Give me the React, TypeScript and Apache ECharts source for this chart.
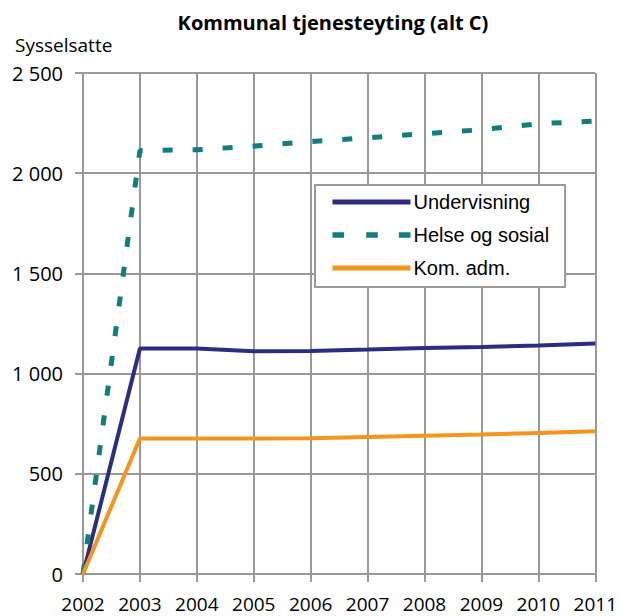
import React, { useEffect, useRef } from "react";
import * as echarts from "echarts";

const years = ["2002", "2003", "2004", "2005", "2006", "2007", "2008", "2009", "2010", "2011"];
const undervisning = [0, 1125, 1125, 1112, 1113, 1120, 1128, 1133, 1140, 1150];
const helseSosial = [0, 2113, 2117, 2135, 2158, 2177, 2197, 2217, 2247, 2260];
const komAdm = [0, 676, 676, 676, 678, 684, 690, 696, 704, 712];
const seriesNames = ["Undervisning", "Helse og sosial", "Kom. adm."];

const FONT = "Open Sans";
const DASH_ICON = "path://M0,0h11v5h-11z M32,0h11v5h-11z M63,0h11v5h-11z";

const fmt = (v: number) => String(v).replace(/\B(?=(\d{3})+(?!\d))/g, " ");

export default function App() {
  const ref = useRef<HTMLDivElement>(null);
  useEffect(() => {
    if (!ref.current) return;
    const chart = echarts.init(ref.current, undefined, { renderer: "svg" });
    chart.setOption({
      animation: false,
      backgroundColor: "#fff",
      title: [
        {
          text: "Kommunal tjenesteyting (alt C)",
          left: 328,
          textAlign: "center",
          top: 7,
          textStyle: { fontFamily: FONT, fontSize: 20, fontWeight: "bold", color: "#000" },
        },
        {
          text: "Sysselsatte",
          left: 10,
          top: 30,
          textStyle: { fontFamily: FONT, fontSize: 19, fontWeight: "normal", color: "#000" },
        },
      ],
      grid: { left: 83, right: 23, top: 73, bottom: 42, containLabel: false },
      legend: {
        left: 315,
        top: 185,
        width: 247,
        orient: "vertical",
        itemWidth: 78,
        itemHeight: 10,
        itemGap: 13,
        padding: [7, 16, 9, 15],
        borderColor: "#999",
        borderWidth: 2,
        backgroundColor: "#fff",
        itemStyle: { opacity: 0 },
        lineStyle: { width: 5 },
        textStyle: { fontFamily: "Liberation Sans", fontSize: 20, color: "#000", padding: [0, 0, 0, -2] },
        data: [
          { name: seriesNames[0] },
          { name: seriesNames[1], icon: DASH_ICON, itemStyle: { opacity: 1, color: "#0e7f7c", borderWidth: 0 } },
          { name: seriesNames[2] },
        ],
      },
      xAxis: {
        type: "category",
        data: years,
        boundaryGap: false,
        axisLine: { lineStyle: { color: "#999", width: 2 } },
        axisTick: { show: true, interval: 0, length: 8, lineStyle: { color: "#999", width: 2 } },
        axisLabel: { interval: 0, hideOverlap: false, fontFamily: FONT, fontSize: 19, color: "#000", margin: 20 },
        splitLine: { show: true, interval: 0, lineStyle: { color: "#999", width: 2 } },
      },
      yAxis: {
        type: "value",
        min: 0,
        max: 2500,
        interval: 500,
        axisLine: { show: true, lineStyle: { color: "#999", width: 2 } },
        axisTick: { show: true, length: 8, lineStyle: { color: "#999", width: 2 } },
        axisLabel: { fontFamily: FONT, fontSize: 20, color: "#000", margin: 20, formatter: (v: number) => fmt(v) },
        splitLine: { show: true, lineStyle: { color: "#999", width: 2 } },
      },
      series: [
        {
          name: seriesNames[0],
          type: "line",
          data: undervisning,
          symbol: "none",
          lineStyle: { color: "#2b2d80", width: 4 },
          itemStyle: { color: "#2b2d80" },
        },
        {
          name: seriesNames[1],
          type: "line",
          data: helseSosial,
          symbol: "none",
          lineStyle: { color: "#0e7f7c", width: 5, type: [10, 20], cap: "butt" },
          itemStyle: { color: "#0e7f7c" },
        },
        {
          name: seriesNames[2],
          type: "line",
          data: komAdm,
          symbol: "none",
          lineStyle: { color: "#f7941d", width: 4 },
          itemStyle: { color: "#f7941d" },
        },
      ],
    });
    return () => chart.dispose();
  }, []);
  return <div ref={ref} style={{ width: 620, height: 616, position: "absolute", left: 0, top: 0 }} />;
}
